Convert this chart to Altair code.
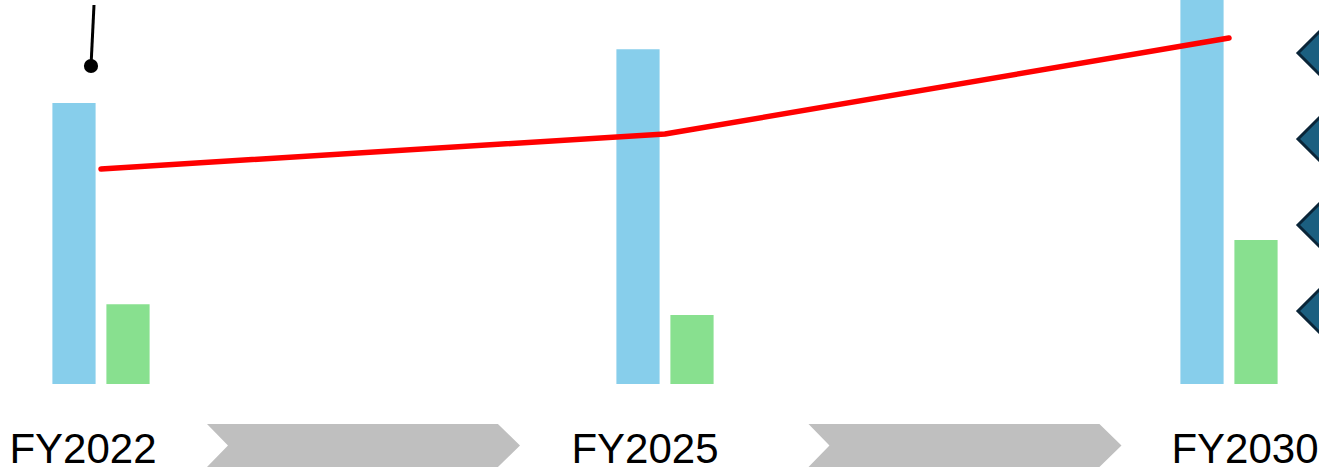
import altair as alt
import pandas as pd

# ---- data ----
years = ["FY2022", "FY2025", "FY2030"]
series_names = ["blue", "green"]
blue_values = [73.2, 87.2, 106.0]
green_values = [20.8, 18.0, 37.5]
red_values = [56.0, 65.1, 90.1]
bullet_ids = ["b1", "b2", "b3", "b4"]

bars_df = pd.DataFrame({
    "year": years * 2,
    "series": ["blue"] * 3 + ["green"] * 3,
    "value": blue_values + green_values,
})
line_df = pd.DataFrame({"year": years, "value": red_values})
bullet_df = pd.DataFrame({"bullet": bullet_ids})

x_scale = alt.Scale(domain=years, range=[-181, 1511], paddingInner=0, paddingOuter=0)
y_scale = alt.Scale(domain=[0, 100], range=[384, 0])
xo_scale = alt.Scale(domain=series_names, range=[233.4, 330.6], paddingInner=0.2, paddingOuter=0)

bars = alt.Chart(bars_df).mark_bar(clip=True).encode(
    x=alt.X("year:N", scale=x_scale, axis=None),
    xOffset=alt.XOffset("series:N", scale=xo_scale),
    y=alt.Y("value:Q", scale=y_scale, axis=None),
    color=alt.Color("series:N", scale=alt.Scale(domain=series_names, range=["#87CEEB", "#88E08F"]), legend=None),
)

line = alt.Chart(line_df).mark_line(color="#ff0000", strokeWidth=5.5, strokeCap="round", strokeJoin="round").encode(
    x=alt.X("year:N", scale=x_scale, axis=None),
    y=alt.Y("value:Q", scale=y_scale, axis=None),
)

dummy = alt.Data(values=[{"k": 1}])

pin_line = alt.Chart(dummy).mark_rule(color="black", strokeWidth=3).encode(
    x=alt.value(94), x2=alt.value(91), y=alt.value(5), y2=alt.value(66)
)
pin_dot = alt.Chart(dummy).mark_circle(color="black", opacity=1, size=201).encode(
    x=alt.value(91), y=alt.value(66)
)

chevron_path = "M -1 -0.137 L 0.859 -0.137 L 1 0 L 0.859 0.137 L -1 0.137 L -0.866 0 Z"
chevrons = []
for cx in [363.5, 965]:
    chevrons.append(
        alt.Chart(dummy).mark_point(
            shape=chevron_path, size=97969, filled=True, color="#bfbfbf", opacity=1, strokeWidth=0
        ).encode(x=alt.value(cx), y=alt.value(445.5))
    )

labels = []
for yr, dx in zip(years, [-18, -20, 16]):
    labels.append(
        alt.Chart(pd.DataFrame({"year": [yr]})).mark_text(
            dx=dx, fontSize=42, font="Liberation Sans", baseline="alphabetic", align="center", color="black"
        ).encode(
            x=alt.X("year:N", scale=x_scale, axis=None),
            y=alt.value(463),
            text="year:N",
        )
    )

diamonds = alt.Chart(bullet_df).mark_point(
    shape="diamond", size=1764, filled=True, fill="#1b5f80", stroke="#0a2538", strokeWidth=3, opacity=1
).encode(
    x=alt.value(1319),
    y=alt.Y("bullet:O", scale=alt.Scale(domain=bullet_ids, range=[53, 311], padding=0), axis=None),
)

chart = alt.layer(
    bars, line, pin_line, pin_dot, *chevrons, *labels, diamonds
).resolve_scale(y="independent").properties(
    width=1319, height=467, autosize=alt.AutoSizeParams(type="none"), padding=0, background="white"
).configure_view(stroke=None)

chart.save("out.html", embed_options={"renderer": "svg", "actions": False})
